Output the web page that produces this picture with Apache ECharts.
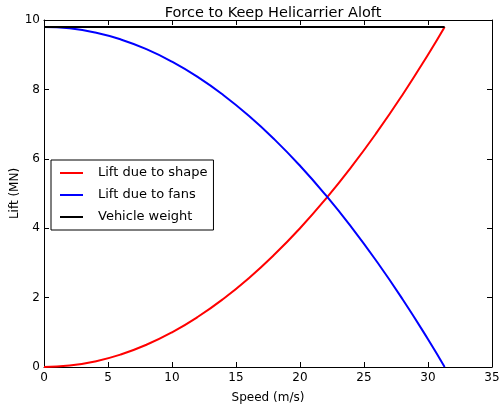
<!DOCTYPE html>
<html lang="en">
<head>
    <meta charset="UTF-8">
    <title>Helicarrier</title>
    <script src="https://cdn.jsdelivr.net/npm/echarts@6/dist/echarts.min.js"></script>
</head>
<body style="margin:0">

<div id="main" style="width: 500px;height:407px;"></div>

<script>
    // speed samples (m/s)
    var speed = [0, 2, 4, 6, 8, 10, 12, 14, 16, 18, 20, 22, 24, 26, 28, 30, 31.3];
    // lift due to shape (MN)
    var liftShape = [0, 0.04, 0.16, 0.36, 0.64, 1.0, 1.44, 1.96, 2.56, 3.24, 4.0, 4.84, 5.76, 6.76, 7.84, 9.0, 9.8];
    // lift due to fans (MN)
    var liftFans = [9.8, 9.76, 9.64, 9.44, 9.16, 8.8, 8.36, 7.84, 7.24, 6.56, 5.8, 4.96, 4.04, 3.04, 1.96, 0.8, 0];
    // vehicle weight (MN)
    var weightX = [0, 31.3];
    var weight = [9.8, 9.8];

    function pairs(xs, ys) {
        var list = [];
        for (var i = 0; i < xs.length; i++) {
            list.push([xs[i], ys[i]]);
        }
        return list;
    }

    var font = 'DejaVu Sans';
    var mychart = echarts.init(document.getElementById('main'));

    var hidden = {show: false};
    var tick = {show: true, inside: true, length: 5, lineStyle: {color: '#000', width: 1}};
    var line = {show: true, onZero: false, lineStyle: {color: '#000', width: 1}};

    var option = {
        animation: false,
        textStyle: {fontFamily: font},
        title: {
            text: 'Force to Keep Helicarrier Aloft',
            left: 268,
            textAlign: 'center',
            top: 1,
            textStyle: {fontFamily: font, fontSize: 14.5, fontWeight: 'normal', color: '#000'}
        },
        grid: {left: 44, right: 8, top: 20, bottom: 40, outerBoundsMode: 'none', containLabel: false},
        legend: {
            orient: 'vertical',
            left: 51,
            top: 160,
            padding: [6, 6, 6, 9],
            itemGap: 8,
            itemWidth: 23,
            itemHeight: 2,
            icon: 'rect',
            borderColor: '#000',
            borderWidth: 1,
            borderRadius: 0,
            backgroundColor: '#fff',
            textStyle: {fontFamily: font, fontSize: 13, color: '#000', lineHeight: 14, padding: [0, 0, 0, 10]},
            data: ['Lift due to shape', 'Lift due to fans', 'Vehicle weight']
        },
        xAxis: [{
            type: 'value',
            min: 0, max: 35, interval: 5,
            name: 'Speed (m/s)',
            nameLocation: 'middle',
            nameGap: 25,
            nameMoveOverlap: false,
            nameTextStyle: {fontFamily: font, fontSize: 12, color: '#000'},
            axisLine: line,
            axisTick: tick,
            axisLabel: {fontFamily: font, fontSize: 12, color: '#000', margin: 5},
            splitLine: hidden
        }, {
            type: 'value',
            position: 'top',
            min: 0, max: 35, interval: 5,
            axisLine: line,
            axisTick: tick,
            axisLabel: hidden,
            splitLine: hidden
        }],
        yAxis: [{
            type: 'value',
            min: 0, max: 10, interval: 2,
            name: 'Lift (MN)',
            nameLocation: 'middle',
            nameGap: 23,
            nameMoveOverlap: false,
            nameTextStyle: {fontFamily: font, fontSize: 12, color: '#000'},
            axisLine: line,
            axisTick: tick,
            axisLabel: {fontFamily: font, fontSize: 12, color: '#000', margin: 4},
            splitLine: hidden
        }, {
            type: 'value',
            position: 'right',
            min: 0, max: 10, interval: 2,
            axisLine: line,
            axisTick: tick,
            axisLabel: hidden,
            splitLine: hidden
        }],
        series: [
            {
                name: 'Lift due to shape',
                type: 'line',
                smooth: true,
                showSymbol: false,
                color: '#ff0000',
                lineStyle: {width: 2},
                data: pairs(speed, liftShape)
            },
            {
                name: 'Lift due to fans',
                type: 'line',
                smooth: true,
                showSymbol: false,
                color: '#0000ff',
                lineStyle: {width: 2},
                data: pairs(speed, liftFans)
            },
            {
                name: 'Vehicle weight',
                type: 'line',
                showSymbol: false,
                color: '#000000',
                lineStyle: {width: 2},
                data: pairs(weightX, weight)
            }
        ]
    };

    mychart.setOption(option);
</script>
</body>
</html>
